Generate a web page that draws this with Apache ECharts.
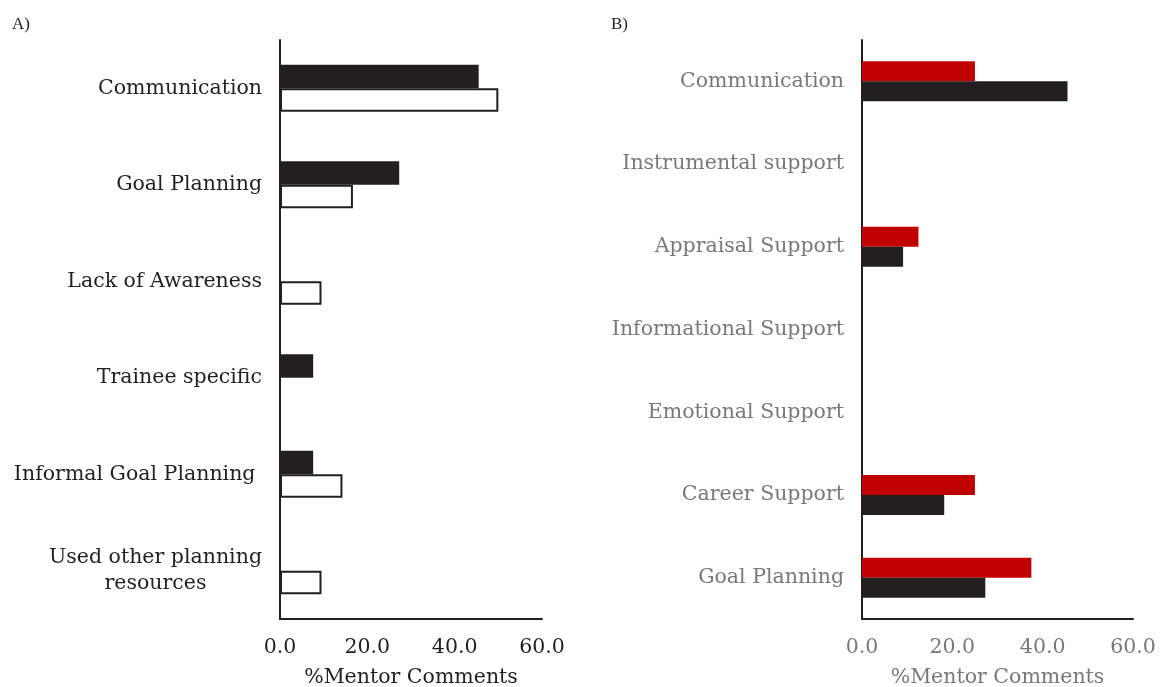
<!DOCTYPE html>
<html>
<head>
<meta charset="utf-8">
<script src="https://cdn.jsdelivr.net/npm/echarts@6/dist/echarts.min.js"></script>
<style>
  html, body { margin: 0; padding: 0; background: #fff; }
  #chart { width: 1160px; height: 687px; }
</style>
</head>
<body>
<div id="chart"></div>
<script>
// panel A
const catsA = ['Communication', 'Goal Planning', 'Lack of Awareness', 'Trainee specific',
  'Informal Goal Planning ', 'Used other planning\nresources'];
const blackA = [45.5, 27.3, 0, 7.6, 7.6, 0];
const whiteA = [50.0, 16.7, 9.5, 0, 14.3, 9.5];

// panel B
const catsB = ['Communication', 'Instrumental support', 'Appraisal Support', 'Informational Support',
  'Emotional Support', 'Career Support', 'Goal Planning'];
const redB = [25.0, 0, 12.5, 0, 0, 25.0, 37.5];
const blackB = [45.5, 0, 9.1, 0, 0, 18.2, 27.3];

const ticks = [0, 20, 40, 60];

const serif = 'DejaVu Serif';
const ink = '#231f20';
const grey = '#787878';

const chart = echarts.init(document.getElementById('chart'));

function xAx(idx, color) {
  return {
    type: 'value', gridIndex: idx, min: ticks[0], max: ticks[ticks.length - 1], interval: 20,
    splitLine: { show: false },
    axisTick: { show: false },
    axisLine: { show: true, lineStyle: { color: ink, width: 2 } },
    axisLabel: { color: color, fontFamily: serif, fontSize: 20.5, margin: 18,
      formatter: v => v.toFixed(1) },
    name: '%Mentor Comments', nameLocation: 'middle', nameGap: 48,
    nameTextStyle: { color: color, fontFamily: serif, fontSize: 20.5 }
  };
}

function yAx(idx, cats, color) {
  return {
    type: 'category', gridIndex: idx, data: cats, inverse: true,
    axisTick: { show: false },
    axisLine: { show: true, lineStyle: { color: ink, width: 2 } },
    axisLabel: {
      color: color, fontFamily: serif, fontSize: 20.5, margin: 18, lineHeight: 26,
      formatter: v => v.split('\n').map(s => '{c|' + s + '}').join('\n'),
      rich: { c: { align: 'center', color: color, fontFamily: serif, fontSize: 20.5, lineHeight: 26 } }
    }
  };
}

chart.setOption({
  animation: false,
  backgroundColor: '#fff',
  title: [
    { text: 'A)', left: 12, top: 16, padding: 0, textStyle: { fontFamily: 'Liberation Serif', fontSize: 17, fontWeight: 'normal', color: '#222' } },
    { text: 'B)', left: 611, top: 16, padding: 0, textStyle: { fontFamily: 'Liberation Serif', fontSize: 17, fontWeight: 'normal', color: '#222' } }
  ],
  grid: [
    { left: 280, width: 262, top: 40, bottom: 68, outerBoundsMode: 'none' },
    { left: 862, width: 271, top: 40, bottom: 68, outerBoundsMode: 'none' }
  ],
  xAxis: [xAx(0, ink), xAx(1, grey)],
  yAxis: [yAx(0, catsA, ink), yAx(1, catsB, grey)],
  series: [
    { type: 'bar', xAxisIndex: 0, yAxisIndex: 0, data: blackA, barWidth: 23.5, barGap: '0%',
      itemStyle: { color: ink } },
    { type: 'bar', xAxisIndex: 0, yAxisIndex: 0, data: whiteA, barWidth: 23.5, barGap: '0%',
      itemStyle: { color: '#fff', borderColor: ink, borderWidth: 2 } },
    { type: 'bar', xAxisIndex: 1, yAxisIndex: 1, data: redB, barWidth: 20, barGap: '0%',
      itemStyle: { color: '#c00000' } },
    { type: 'bar', xAxisIndex: 1, yAxisIndex: 1, data: blackB, barWidth: 20, barGap: '0%',
      itemStyle: { color: ink } }
  ]
});
</script>
</body>
</html>
